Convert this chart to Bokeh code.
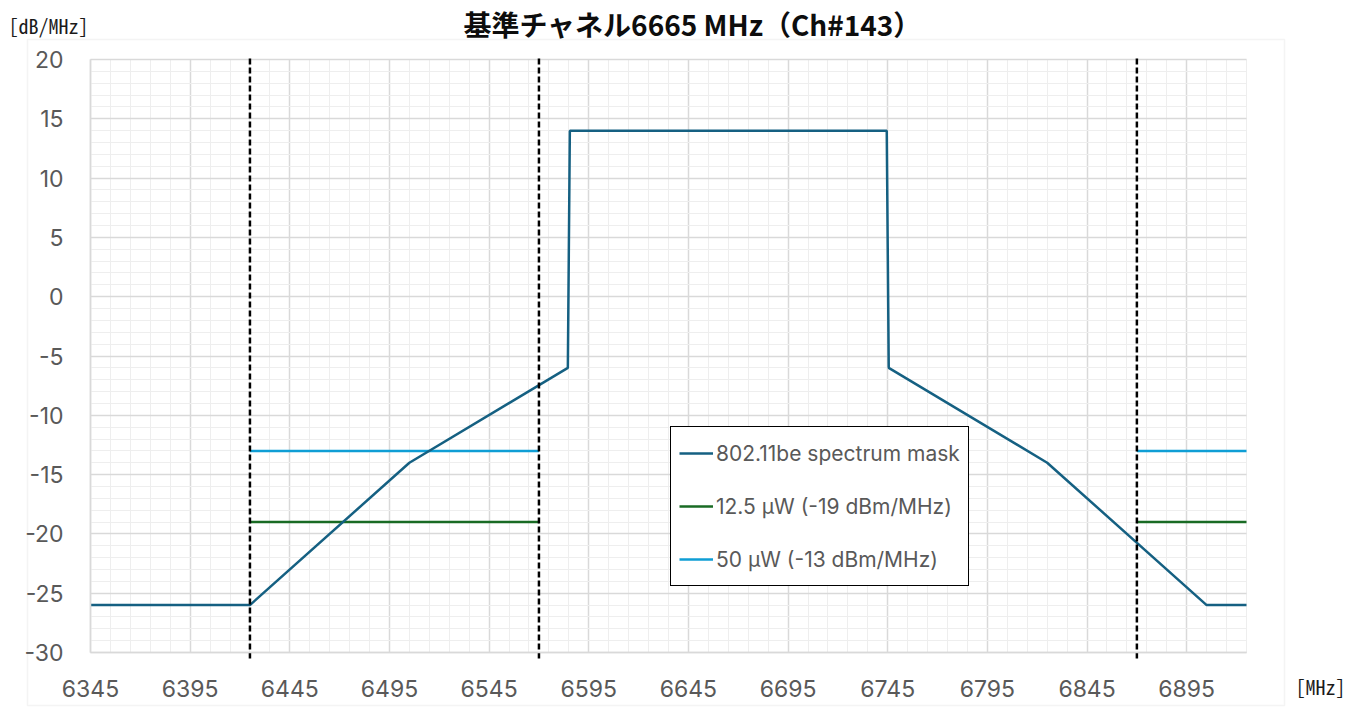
import math
from bokeh.plotting import figure
from bokeh.models import FixedTicker, Label, BoxAnnotation, Legend, LegendItem
from bokeh.embed import file_html
from bokeh.resources import INLINE

# ---- data ----
mask_freq = [6345, 6425, 6505, 6584.5, 6585.5, 6744.5, 6745.5, 6825, 6905, 6925]
mask_level = [-26, -26, -14, -6, 14, 14, -6, -14, -26, -26]

limit_freq = [6425, 6570, math.nan, 6870, 6925]
limit_50uw = [-13, -13, math.nan, -13, -13]
limit_12uw = [-19, -19, math.nan, -19, -19]

band_edges = [6425, 6570, 6870]

x_ticks = [6345, 6395, 6445, 6495, 6545, 6595, 6645, 6695, 6745, 6795, 6845, 6895]
x_minor = list(range(6345, 6926, 10))
y_ticks = [-30, -25, -20, -15, -10, -5, 0, 5, 10, 15, 20]
y_minor = list(range(-30, 21, 1))

title_text = "基準チャネル6665 MHz（Ch#143）"
y_unit = "[dB/MHz]"
x_unit = "[MHz]"
legend_labels = ["802.11be spectrum mask", "12.5 μW (-19 dBm/MHz)", "50 μW (-13 dBm/MHz)"]

# ---- layout / style ----
W, H = 1360, 708
PLOT_L, PLOT_R, PLOT_T, PLOT_B = 90, 1246, 59, 652   # pixel box of the plot area
X0, X1 = 6345, 6925
Y0, Y1 = -30, 20
kx = (PLOT_R - PLOT_L) / (X1 - X0)
ky = (PLOT_B - PLOT_T) / (Y1 - Y0)
x_range = (X0 - PLOT_L / kx, X1 + (W - PLOT_R) / kx)
y_range = (Y0 - (H - PLOT_B) / ky, Y1 + PLOT_T / ky)
EDGE_TOP, EDGE_BOTTOM = Y1 + 1 / ky, Y0 - 8 / ky

C_MASK = "#156082"
C_GREEN = "#196B24"
C_BLUE = "#0F9ED5"
TICK_FONT = "Inter"
MONO_FONT = "'Noto Sans Mono CJK JP', 'DejaVu Sans Mono', monospace"

p = figure(width=W, height=H, output_backend="svg", toolbar_location=None,
           x_range=x_range, y_range=y_range, min_border=0)
p.outline_line_color = None
p.background_fill_color = "white"
p.border_fill_color = "white"

p.xaxis.ticker = FixedTicker(ticks=x_ticks, minor_ticks=x_minor)
p.yaxis.ticker = FixedTicker(ticks=y_ticks, minor_ticks=y_minor)
p.xaxis.fixed_location = Y0
p.yaxis.fixed_location = X0
p.xaxis.bounds = (X0, X1)
p.yaxis.bounds = (Y0, Y1)
p.yaxis.major_label_overrides = {v: str(v) for v in y_ticks}
p.xaxis.major_label_overrides = {v: str(v) for v in x_ticks}
for ax in (p.xaxis, p.yaxis):
    ax.axis_line_color = "#d9d9d9"
    ax.axis_line_width = 1.5
    ax.major_tick_line_color = None
    ax.minor_tick_line_color = None
    ax.major_label_text_font = TICK_FONT
    ax.major_label_text_font_size = "23px"
    ax.major_label_text_color = "#595959"
p.xaxis.major_label_standoff = 21
p.yaxis.major_label_standoff = 21

grid_ok = True
try:
    p.xgrid.cross_bounds = (Y0, Y1)
    p.ygrid.cross_bounds = (X0, X1)
except Exception:
    grid_ok = False

if grid_ok:
    for g in (p.xgrid, p.ygrid):
        g.grid_line_color = "#d9d9d9"
        g.grid_line_width = 1.5
        g.minor_grid_line_color = "#eeeeee"
        g.minor_grid_line_width = 1
else:
    p.xgrid.visible = False
    p.ygrid.visible = False
    p.segment(x0=x_minor, x1=x_minor, y0=[Y0] * len(x_minor), y1=[Y1] * len(x_minor),
              line_color="#eeeeee", line_width=1)
    p.segment(x0=[X0] * len(y_minor), x1=[X1] * len(y_minor), y0=y_minor, y1=y_minor,
              line_color="#eeeeee", line_width=1)
    p.segment(x0=x_ticks, x1=x_ticks, y0=[Y0] * len(x_ticks), y1=[Y1] * len(x_ticks),
              line_color="#d9d9d9", line_width=1.5)
    p.segment(x0=[X0] * len(y_ticks), x1=[X1] * len(y_ticks), y0=y_ticks, y1=y_ticks,
              line_color="#d9d9d9", line_width=1.5)

# outer chart border (screen px from bottom-left)
p.add_layout(BoxAnnotation(left=27, right=1284, top=H - 39, bottom=H - 705,
                           left_units="screen", right_units="screen",
                           top_units="screen", bottom_units="screen",
                           fill_alpha=0, line_color="#d9d9d9", line_width=1.5,
                           level="underlay"))

r12 = p.line(limit_freq, limit_12uw, line_color=C_GREEN, line_width=2.5)
r50 = p.line(limit_freq, limit_50uw, line_color=C_BLUE, line_width=2.5)
rmask = p.line(mask_freq, mask_level, line_color=C_MASK, line_width=2.5)
p.segment(x0=band_edges, y0=[EDGE_TOP] * 3, x1=band_edges, y1=[EDGE_BOTTOM] * 3,
          line_color="black", line_width=2.5, line_dash="6 3")

legend = Legend(items=[LegendItem(label=legend_labels[0], renderers=[rmask]),
                       LegendItem(label=legend_labels[1], renderers=[r12]),
                       LegendItem(label=legend_labels[2], renderers=[r50])],
                location=(670, H - 586), border_line_color="black", border_line_width=1.5,
                border_line_alpha=1.0,
                background_fill_color="white", background_fill_alpha=1,
                label_text_font=TICK_FONT, label_text_font_size="21px",
                label_text_color="#595959", glyph_width=34, glyph_height=20,
                label_height=36, spacing=17, padding=8, label_standoff=3, margin=0)
p.add_layout(legend, "center")

p.add_layout(Label(x=692, y=H - 3, x_units="screen", y_units="screen", text=title_text,
                   text_align="center", text_baseline="top",
                   text_font="Noto Sans CJK JP", text_font_style="bold",
                   text_font_size="28px", text_color="#0d0d0d"))
p.add_layout(Label(x=8, y=H - 25, x_units="screen", y_units="screen", text=y_unit,
                   text_align="left", text_baseline="middle",
                   text_font=MONO_FONT, text_font_size="20px", text_color="#1a1a1a"))
p.add_layout(Label(x=1295, y=H - 686, x_units="screen", y_units="screen", text=x_unit,
                   text_align="left", text_baseline="middle",
                   text_font=MONO_FONT, text_font_size="20px", text_color="#1a1a1a"))

open("out.html", "w").write(file_html(p, INLINE))
